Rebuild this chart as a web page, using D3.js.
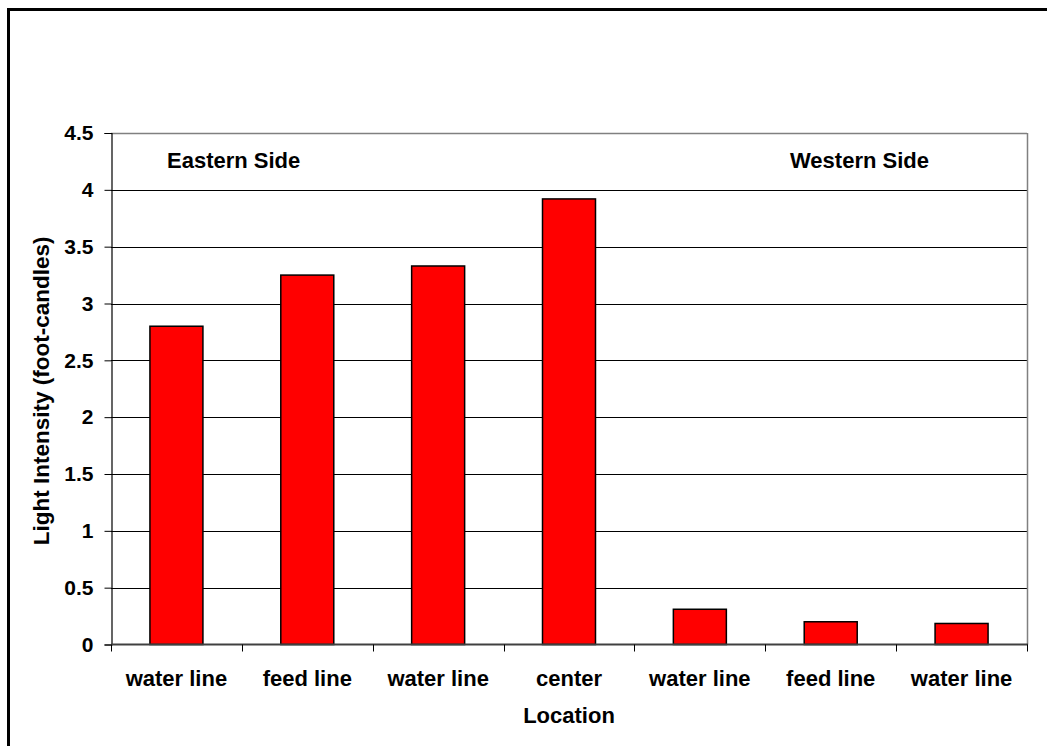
<!DOCTYPE html>
<html>
<head>
<meta charset="utf-8">
<script src="https://cdn.jsdelivr.net/npm/d3@7/dist/d3.min.js"></script>
<style>
  html, body { margin: 0; padding: 0; background: #fff; }
  text { font-family: "Liberation Sans", Arial, sans-serif; font-weight: bold; fill: #000; }
</style>
</head>
<body>
<svg id="chart" width="1047" height="746"></svg>
<script>
// Light intensity readings along the house, east to west
const categories = ["water line", "feed line", "water line", "center", "water line", "feed line", "water line"];
const intensity = [2.8, 3.25, 3.33, 3.92, 0.31, 0.2, 0.185];
const yTicks = [0, 0.5, 1, 1.5, 2, 2.5, 3, 3.5, 4, 4.5];
const sideLabels = ["Eastern Side", "Western Side"];

const svg = d3.select("#chart");
const W = 1047, H = 746;
const plot = { left: 111, right: 1027, top: 133, bottom: 644.5 };

// Outer frame (runs off the right and bottom edges)
svg.append("rect")
  .attr("x", 8.5).attr("y", 9.5)
  .attr("width", W + 20).attr("height", H + 20)
  .attr("fill", "none").attr("stroke", "#000").attr("stroke-width", 3);

const x = d3.scaleBand()
  .domain(d3.range(categories.length))
  .range([plot.left, plot.right])
  .paddingInner(0.595).paddingOuter(0.2975);

const xb = d3.scaleBand()
  .domain(d3.range(categories.length))
  .range([plot.left, plot.right]);

const y = d3.scaleLinear().domain([0, 4.5]).range([plot.bottom, plot.top]);

// Horizontal gridlines
svg.append("g").selectAll("line")
  .data(yTicks.filter(t => t > 0 && t < 4.5))
  .join("line")
  .attr("x1", plot.left).attr("x2", plot.right)
  .attr("y1", d => Math.round(y(d)) + 0.5).attr("y2", d => Math.round(y(d)) + 0.5)
  .attr("stroke", "#000").attr("stroke-width", 1.2);

// Plot-area border: top and right in grey
svg.append("line")
  .attr("x1", plot.left).attr("x2", plot.right)
  .attr("y1", Math.round(y(4.5)) + 0.5).attr("y2", Math.round(y(4.5)) + 0.5)
  .attr("stroke", "#808080").attr("stroke-width", 1.5);
svg.append("line")
  .attr("x1", plot.right + 0.5).attr("x2", plot.right + 0.5)
  .attr("y1", plot.top).attr("y2", plot.bottom)
  .attr("stroke", "#808080").attr("stroke-width", 1.5);

// Bars
svg.append("g").selectAll("rect")
  .data(intensity)
  .join("rect")
  .attr("x", (d, i) => x(i))
  .attr("y", d => y(d))
  .attr("width", x.bandwidth())
  .attr("height", d => y(0) - y(d))
  .attr("fill", "#FF0000")
  .attr("stroke", "#000").attr("stroke-width", 1.5);

// Y axis
const yAxis = d3.axisLeft(y).tickValues(yTicks).tickSize(7).tickPadding(11)
  .tickFormat(d => d3.format("")(d));
const gy = svg.append("g").attr("transform", `translate(${plot.left + 0.5},0)`).call(yAxis);
gy.select(".domain").attr("stroke", "#000").attr("stroke-width", 1.2);
gy.selectAll(".tick line").attr("stroke", "#000");
gy.selectAll(".tick text")
  .attr("font-size", 21).attr("font-family", "Liberation Sans, Arial, sans-serif")
  .attr("font-weight", "bold").attr("fill", "#000");

// X axis: ticks between categories
const xTickPos = d3.range(categories.length + 1).map(i => i < categories.length ? xb(i) : plot.right);
svg.append("line")
  .attr("x1", plot.left).attr("x2", plot.right + 1)
  .attr("y1", plot.bottom).attr("y2", plot.bottom)
  .attr("stroke", "#404040").attr("stroke-width", 2);
svg.append("g").selectAll("line")
  .data(xTickPos)
  .join("line")
  .attr("x1", d => Math.round(d) + 0.5).attr("x2", d => Math.round(d) + 0.5)
  .attr("y1", plot.bottom).attr("y2", plot.bottom + 7)
  .attr("stroke", "#000").attr("stroke-width", 1);

svg.append("g").selectAll("text")
  .data(categories)
  .join("text")
  .attr("x", (d, i) => xb(i) + xb.bandwidth() / 2)
  .attr("y", 686)
  .attr("text-anchor", "middle")
  .attr("font-size", 22)
  .text(d => d);

// Axis titles
svg.append("text")
  .attr("x", (plot.left + plot.right) / 2).attr("y", 723)
  .attr("text-anchor", "middle").attr("font-size", 22)
  .text("Location");
svg.append("text")
  .attr("transform", `translate(49,${(plot.top + plot.bottom) / 2 + 2}) rotate(-90)`)
  .attr("text-anchor", "middle").attr("font-size", 22.5)
  .text("Light Intensity (foot-candles)");

// Side annotations
svg.append("text").attr("x", 167).attr("y", 167.5).attr("font-size", 22).text(sideLabels[0]);
svg.append("text").attr("x", 790).attr("y", 167.5).attr("font-size", 22).text(sideLabels[1]);
</script>
</body>
</html>
